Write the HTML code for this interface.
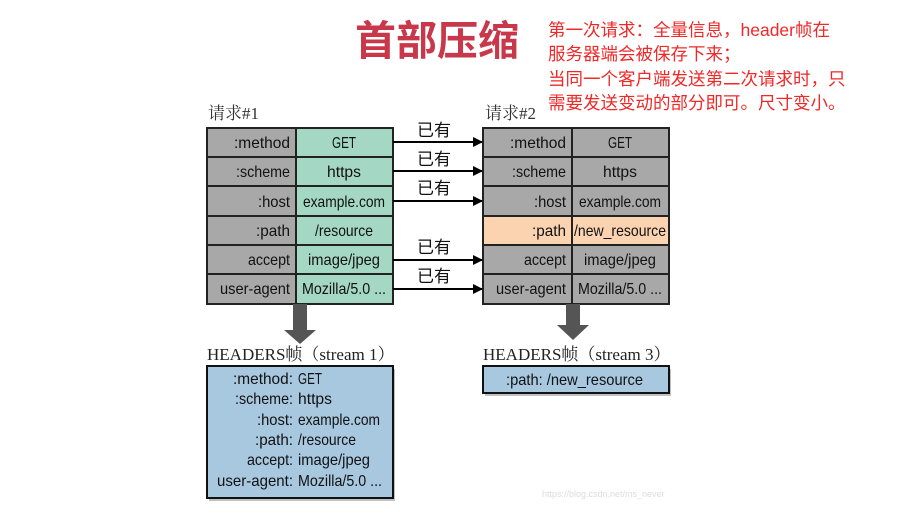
<!DOCTYPE html>
<html><head><meta charset="utf-8"><style>
body{margin:0;background:#fff}
svg text{font-family:"Liberation Sans",sans-serif}
</style></head><body>
<svg width="897" height="518" viewBox="0 0 897 518" xmlns="http://www.w3.org/2000/svg">
<defs><marker id="ah" markerWidth="10" markerHeight="10" refX="9" refY="5" orient="auto" markerUnits="userSpaceOnUse"><path d="M0,0 L10,5 L0,10 z" fill="#000"/></marker></defs>
<text x="355" y="55" font-size="41" font-weight="bold" fill="#c8384a" style="font-family:'Liberation Sans','Noto Sans CJK SC',sans-serif">首部压缩</text>
<g font-size="17.5" fill="#f02828">
<text x="548" y="36" style="font-family:'Liberation Sans','Noto Sans CJK SC',sans-serif">第一次请求：全量信息，header帧在</text>
<text x="548" y="60" style="font-family:'Liberation Sans','Noto Sans CJK SC',sans-serif">服务器端会被保存下来；</text>
<text x="548" y="85" style="font-family:'Liberation Sans','Noto Sans CJK SC',sans-serif">当同一个客户端发送第二次请求时，只</text>
<text x="548" y="109" style="font-family:'Liberation Sans','Noto Sans CJK SC',sans-serif">需要发送变动的部分即可。尺寸变小。</text>
</g>
<text x="208" y="119" font-size="17" fill="#333" style="font-family:'Liberation Serif','Noto Serif CJK SC',serif">请求#1</text>
<text x="485" y="119" font-size="17" fill="#333" style="font-family:'Liberation Serif','Noto Serif CJK SC',serif">请求#2</text>
<g stroke="#222" stroke-width="2">
<rect x="207" y="128" width="89" height="176" fill="#a8a8a8"/>
<rect x="296" y="128" width="97" height="176" fill="#a5d8c4"/>
<rect x="483" y="128" width="89" height="176" fill="#a8a8a8"/>
<rect x="572" y="128" width="97" height="176" fill="#a8a8a8"/>
<rect x="483" y="216" width="186" height="29" fill="#fbd3b0"/>
<line x1="207" y1="157" x2="393" y2="157"/><line x1="207" y1="186" x2="393" y2="186"/><line x1="207" y1="216" x2="393" y2="216"/><line x1="207" y1="245" x2="393" y2="245"/><line x1="207" y1="274" x2="393" y2="274"/>
<line x1="483" y1="157" x2="669" y2="157"/><line x1="483" y1="186" x2="669" y2="186"/><line x1="483" y1="216" x2="669" y2="216"/><line x1="483" y1="245" x2="669" y2="245"/><line x1="483" y1="274" x2="669" y2="274"/>
<line x1="572" y1="128" x2="572" y2="304"/>
</g>
<g font-size="16" fill="#111" lengthAdjust="spacingAndGlyphs">
<g text-anchor="end">
<text x="290" y="148" textLength="56" lengthAdjust="spacingAndGlyphs">:method</text><text x="290" y="177" textLength="54" lengthAdjust="spacingAndGlyphs">:scheme</text><text x="290" y="207" textLength="32" lengthAdjust="spacingAndGlyphs">:host</text><text x="290" y="236" textLength="34" lengthAdjust="spacingAndGlyphs">:path</text><text x="290" y="265" textLength="42" lengthAdjust="spacingAndGlyphs">accept</text><text x="290" y="294" textLength="70" lengthAdjust="spacingAndGlyphs">user-agent</text>
<text x="566" y="148" textLength="56" lengthAdjust="spacingAndGlyphs">:method</text><text x="566" y="177" textLength="54" lengthAdjust="spacingAndGlyphs">:scheme</text><text x="566" y="207" textLength="32" lengthAdjust="spacingAndGlyphs">:host</text><text x="566" y="236" textLength="34" lengthAdjust="spacingAndGlyphs">:path</text><text x="566" y="265" textLength="42" lengthAdjust="spacingAndGlyphs">accept</text><text x="566" y="294" textLength="70" lengthAdjust="spacingAndGlyphs">user-agent</text>
</g>
<g text-anchor="middle">
<text x="344" y="148" textLength="24" lengthAdjust="spacingAndGlyphs">GET</text><text x="344" y="177" textLength="34" lengthAdjust="spacingAndGlyphs">https</text><text x="344" y="207" textLength="82" lengthAdjust="spacingAndGlyphs">example.com</text><text x="344" y="236" textLength="58" lengthAdjust="spacingAndGlyphs">/resource</text><text x="344" y="265" textLength="72" lengthAdjust="spacingAndGlyphs">image/jpeg</text><text x="344" y="294" textLength="84" lengthAdjust="spacingAndGlyphs">Mozilla/5.0 ...</text>
<text x="620" y="148" textLength="24" lengthAdjust="spacingAndGlyphs">GET</text><text x="620" y="177" textLength="34" lengthAdjust="spacingAndGlyphs">https</text><text x="620" y="207" textLength="82" lengthAdjust="spacingAndGlyphs">example.com</text><text x="620" y="236" textLength="92" lengthAdjust="spacingAndGlyphs">/new_resource</text><text x="620" y="265" textLength="72" lengthAdjust="spacingAndGlyphs">image/jpeg</text><text x="620" y="294" textLength="84" lengthAdjust="spacingAndGlyphs">Mozilla/5.0 ...</text>
</g>
</g>
<g stroke="#000" stroke-width="2" marker-end="url(#ah)">
<line x1="393" y1="142" x2="482" y2="142"/><line x1="393" y1="171" x2="482" y2="171"/><line x1="393" y1="201" x2="482" y2="201"/><line x1="393" y1="260" x2="482" y2="260"/><line x1="393" y1="289" x2="482" y2="289"/>
</g>
<g font-size="17" fill="#111">
<text x="417" y="136" style="font-family:'Noto Sans CJK SC',sans-serif">已有</text>
<text x="417" y="165" style="font-family:'Noto Sans CJK SC',sans-serif">已有</text>
<text x="417" y="194" style="font-family:'Noto Sans CJK SC',sans-serif">已有</text>
<text x="417" y="253" style="font-family:'Noto Sans CJK SC',sans-serif">已有</text>
<text x="417" y="282" style="font-family:'Noto Sans CJK SC',sans-serif">已有</text>
</g>
<g fill="#555">
<rect x="293" y="304" width="14" height="26"/><path d="M284,330 L316,330 L300,344 z"/>
<rect x="566" y="304" width="14" height="22"/><path d="M557,325 L589,325 L573,340 z"/>
</g>
<text x="207" y="360" font-size="17" fill="#222" style="font-family:'Liberation Serif','Noto Serif CJK SC',serif">HEADERS帧（stream 1）</text>
<text x="483" y="360" font-size="17" fill="#222" style="font-family:'Liberation Serif','Noto Serif CJK SC',serif">HEADERS帧（stream 3）</text>
<rect x="209" y="369" width="186" height="132" fill="#666" opacity="0.4"/>
<rect x="207" y="366" width="186" height="132" fill="#a8c8e0" stroke="#111" stroke-width="2"/>
<rect x="485" y="369" width="186" height="27" fill="#666" opacity="0.4"/>
<rect x="483" y="366" width="186" height="27" fill="#a8c8e0" stroke="#111" stroke-width="2"/>
<g font-size="16" fill="#111">
<g text-anchor="end">
<text x="293" y="384" textLength="60" lengthAdjust="spacingAndGlyphs">:method:</text><text x="293" y="404" textLength="58" lengthAdjust="spacingAndGlyphs">:scheme:</text><text x="293" y="425" textLength="36" lengthAdjust="spacingAndGlyphs">:host:</text><text x="293" y="445" textLength="38" lengthAdjust="spacingAndGlyphs">:path:</text><text x="293" y="465" textLength="46" lengthAdjust="spacingAndGlyphs">accept:</text><text x="293" y="486" textLength="76" lengthAdjust="spacingAndGlyphs">user-agent:</text>
</g>
<text x="298" y="384" textLength="24" lengthAdjust="spacingAndGlyphs">GET</text><text x="298" y="404" textLength="34" lengthAdjust="spacingAndGlyphs">https</text><text x="298" y="425" textLength="82" lengthAdjust="spacingAndGlyphs">example.com</text><text x="298" y="445" textLength="58" lengthAdjust="spacingAndGlyphs">/resource</text><text x="298" y="465" textLength="72" lengthAdjust="spacingAndGlyphs">image/jpeg</text><text x="298" y="486" textLength="84" lengthAdjust="spacingAndGlyphs">Mozilla/5.0 ...</text>
<text x="506" y="385" textLength="137" lengthAdjust="spacingAndGlyphs">:path:  /new_resource</text>
</g>
<text x="542" y="497" font-size="9" fill="#ddd">https://blog.csdn.net/ms_never</text>
</svg>
</body></html>
